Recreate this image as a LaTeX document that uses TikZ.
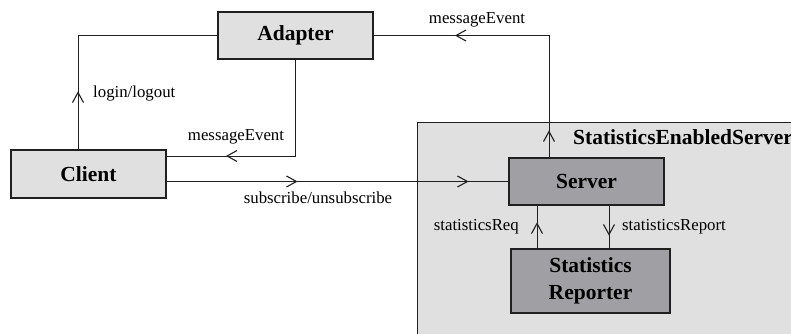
\documentclass[tikz,border=0pt]{standalone}
\usepackage{fontspec}
\setmainfont{Liberation Serif}
\usetikzlibrary{arrows.meta,decorations.markings,positioning}
\definecolor{lightbox}{HTML}{E0E0E0}
\definecolor{darkbox}{HTML}{A0A0A4}
\definecolor{edge}{HTML}{202020}
\newcommand\lblfont{\fontsize{16.8}{20}\selectfont}
\newcommand\boxfont{\fontsize{21.5}{27}\selectfont\bfseries}
\tikzset{
  lightnode/.style={draw=edge, line width=1.2pt, fill=lightbox, minimum width=155pt, minimum height=47pt, inner sep=0pt, font=\boxfont, align=center},
  darknode/.style={lightnode, fill=darkbox},
  conn/.style={draw=edge, line width=1pt},
  barbtip/.tip={Straight Barb[length=10pt,width=11pt,line width=1.1pt]},
  midarrow/.style={postaction={decorate}, decoration={markings, mark=at position #1 with {\arrow{barbtip}}}},
  lbl/.style={font=\lblfont, inner sep=1pt},
}
\begin{document}
\begin{tikzpicture}[x=1pt,y=-1pt]
\useasboundingbox (0,0) rectangle (791,333);
\clip (0,0) rectangle (791,333);
% outer container
\draw[draw=edge, line width=1pt, fill=lightbox] (417,122) rectangle (830,360);
\node[anchor=west, font=\boxfont, inner sep=0pt] (sestitle) at (573,137) {StatisticsEnabledServer};
% nodes
\node[lightnode] (adapter) at (295.5,35.5) {Adapter};
\node[lightnode, minimum height=48pt] (client) at (88.5,174) {Client};
\node[darknode] (server) at (586.5,181.5) {Server};
\node[darknode, minimum width=159pt, minimum height=64pt] (reporter) at (590.5,281) {Statistics\\Reporter};
% helper coordinates
\coordinate (lx) at (78,0);
\coordinate (my) at (0,156);
\coordinate (sx) at (549,0);
\coordinate (rqx) at (537,0);
\coordinate (rpx) at (609,0);
% login/logout
\draw[conn, midarrow=58pt] (client.north -| lx) |- (adapter.west);
\node[lbl, anchor=west] (llogin) at (92,93) {login/logout};
% messageEvent adapter -> client
\draw[conn, midarrow=166pt] (adapter.south) |- (client.east |- my);
\node[lbl, fill=white] (lmsg1) at (236,137) {messageEvent};
% messageEvent server -> adapter
\draw[conn, postaction={decorate}, decoration={markings,
  mark=at position 27pt with {\arrow{barbtip}},
  mark=at position 216pt with {\arrow{barbtip}}}]
  (server.north -| sx) |- (adapter.east);
\node[lbl] (lmsg2) at (477,20) {messageEvent};
% subscribe/unsubscribe
\draw[conn, postaction={decorate}, decoration={markings,
  mark=at position 131pt with {\arrow{barbtip}},
  mark=at position 302pt with {\arrow{barbtip}}}]
  (client.east |- server.west) -- (server.west);
\node[lbl] (lsub) at (318,198) {subscribe/unsubscribe};
% statisticsReq
\draw[conn, midarrow=26pt] (reporter.north -| rqx) -- (server.south -| rqx);
\node[lbl, anchor=east] (lreq) at (520,227) {statisticsReq};
% statisticsReport
\draw[conn, midarrow=30pt] (server.south -| rpx) -- (reporter.north -| rpx);
\node[lbl, anchor=west] (lrep) at (621,227) {statisticsReport};
\end{tikzpicture}
\end{document}
